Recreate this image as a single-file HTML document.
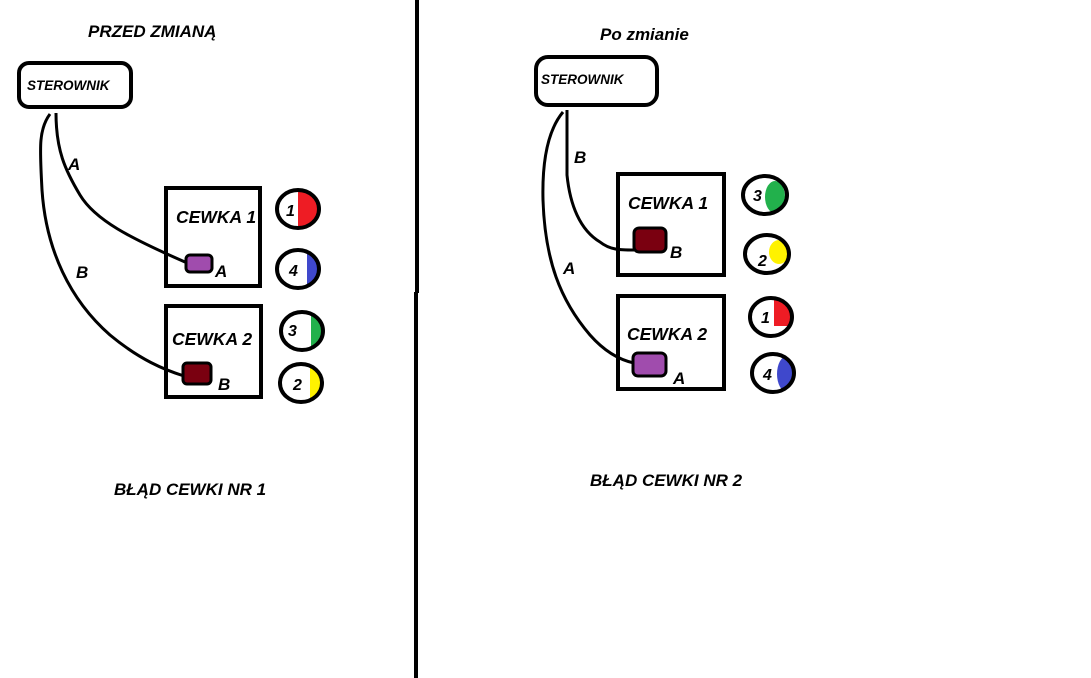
<!DOCTYPE html>
<html><head><meta charset="utf-8"><style>
html,body{margin:0;padding:0;background:#fff;width:1091px;height:678px;overflow:hidden}
text{font-family:"Liberation Sans",sans-serif;font-weight:bold;font-style:italic;fill:#000}
</style></head><body>
<svg width="1091" height="678" viewBox="0 0 1091 678" xmlns="http://www.w3.org/2000/svg">
<defs>
<clipPath id="c1"><ellipse cx="298" cy="209" rx="21" ry="19"/></clipPath>
<clipPath id="c2"><ellipse cx="298" cy="269" rx="21" ry="19"/></clipPath>
<clipPath id="c3"><ellipse cx="302" cy="331" rx="21" ry="19"/></clipPath>
<clipPath id="c4"><ellipse cx="301" cy="383" rx="21" ry="19"/></clipPath>
<clipPath id="c5"><ellipse cx="765" cy="195" rx="22" ry="19"/></clipPath>
<clipPath id="c6"><ellipse cx="767" cy="254" rx="22" ry="19"/></clipPath>
<clipPath id="c7"><ellipse cx="771" cy="317" rx="21" ry="19"/></clipPath>
<clipPath id="c8"><ellipse cx="773" cy="373" rx="21" ry="19"/></clipPath>
</defs>
<rect x="415" y="0" width="4" height="293" fill="#000"/>
<rect x="414" y="292" width="4" height="386" fill="#000"/>

<text x="88" y="37" font-size="17">PRZED ZMIANĄ</text>
<text x="600" y="40" font-size="17">Po zmianie</text>
<text x="114" y="495" font-size="17">BŁĄD CEWKI NR 1</text>
<text x="590" y="486" font-size="17">BŁĄD CEWKI NR 2</text>

<rect x="19" y="63" width="112" height="44" rx="10" fill="none" stroke="#000" stroke-width="4"/>
<text x="27" y="90" font-size="13.5">STEROWNIK</text>
<path d="M56 113 C56 150 65 170 80 195 C95 220 130 238 185 262" fill="none" stroke="#000" stroke-width="3"/>
<path d="M50 114 C38 130 40 150 42 190 C46 250 70 300 110 335 C140 360 165 370 184 376" fill="none" stroke="#000" stroke-width="3"/>
<text x="68" y="170" font-size="17">A</text>
<text x="76" y="278" font-size="17">B</text>

<rect x="166" y="188" width="94" height="98" fill="none" stroke="#000" stroke-width="4"/>
<text x="176" y="223" font-size="17.5">CEWKA 1</text>
<rect x="186" y="255" width="26" height="17" rx="4" fill="#a04cad" stroke="#000" stroke-width="3"/>
<text x="215" y="277" font-size="17">A</text>

<rect x="166" y="306" width="95" height="91" fill="none" stroke="#000" stroke-width="4"/>
<text x="172" y="345" font-size="17.5">CEWKA 2</text>
<rect x="183" y="363" width="28" height="21" rx="4" fill="#7a0010" stroke="#000" stroke-width="3"/>
<text x="218" y="390" font-size="17">B</text>

<g><rect x="298" y="188" width="30" height="40" fill="#ee1c24" clip-path="url(#c1)"/><ellipse cx="298" cy="209" rx="21" ry="19" fill="none" stroke="#000" stroke-width="4"/><text x="286" y="216" font-size="16">1</text></g>
<g><rect x="307" y="248" width="20" height="42" fill="#3f48cc" clip-path="url(#c2)"/><ellipse cx="298" cy="269" rx="21" ry="19" fill="none" stroke="#000" stroke-width="4"/><text x="289" y="276" font-size="16">4</text></g>
<g><rect x="311" y="310" width="20" height="42" fill="#22b14c" clip-path="url(#c3)"/><ellipse cx="302" cy="331" rx="21" ry="19" fill="none" stroke="#000" stroke-width="4"/><text x="288" y="336" font-size="16">3</text></g>
<g><rect x="310" y="362" width="20" height="42" fill="#fff200" clip-path="url(#c4)"/><ellipse cx="301" cy="383" rx="21" ry="19" fill="none" stroke="#000" stroke-width="4"/><text x="293" y="390" font-size="16">2</text></g>

<rect x="536" y="57" width="121" height="48" rx="12" fill="none" stroke="#000" stroke-width="4"/>
<text x="541" y="84" font-size="13.5">STEROWNIK</text>
<path d="M567 110 L567 175 C570 205 580 230 600 242 C610 250 620 250 634 250" fill="none" stroke="#000" stroke-width="3"/>
<path d="M563 112 C548 130 542 160 543 200 C545 260 560 300 590 335 C605 352 620 360 634 363" fill="none" stroke="#000" stroke-width="3"/>
<text x="574" y="163" font-size="17">B</text>
<text x="563" y="274" font-size="17">A</text>

<rect x="618" y="174" width="106" height="101" fill="none" stroke="#000" stroke-width="4"/>
<text x="628" y="209" font-size="17.5">CEWKA 1</text>
<rect x="634" y="228" width="32" height="24" rx="5" fill="#7a0010" stroke="#000" stroke-width="3"/>
<text x="670" y="258" font-size="17">B</text>

<rect x="618" y="296" width="106" height="93" fill="none" stroke="#000" stroke-width="4"/>
<text x="627" y="340" font-size="17.5">CEWKA 2</text>
<rect x="633" y="353" width="33" height="23" rx="5" fill="#a04cad" stroke="#000" stroke-width="3"/>
<text x="673" y="384" font-size="17">A</text>

<g><ellipse cx="775" cy="197" rx="10" ry="16" fill="#22b14c" clip-path="url(#c5)"/><ellipse cx="765" cy="195" rx="22" ry="19" fill="none" stroke="#000" stroke-width="4"/><text x="753" y="201" font-size="16">3</text></g>
<g><ellipse cx="779" cy="252" rx="10" ry="12" fill="#fff200" clip-path="url(#c6)"/><ellipse cx="767" cy="254" rx="22" ry="19" fill="none" stroke="#000" stroke-width="4"/><text x="758" y="266" font-size="16">2</text></g>
<g><rect x="774" y="298" width="20" height="28" fill="#ee1c24" clip-path="url(#c7)"/><ellipse cx="771" cy="317" rx="21" ry="19" fill="none" stroke="#000" stroke-width="4"/><text x="761" y="323" font-size="16">1</text></g>
<g><ellipse cx="787" cy="374" rx="10" ry="18" fill="#3f48cc" clip-path="url(#c8)"/><ellipse cx="773" cy="373" rx="21" ry="19" fill="none" stroke="#000" stroke-width="4"/><text x="763" y="380" font-size="16">4</text></g>
</svg>
</body></html>
